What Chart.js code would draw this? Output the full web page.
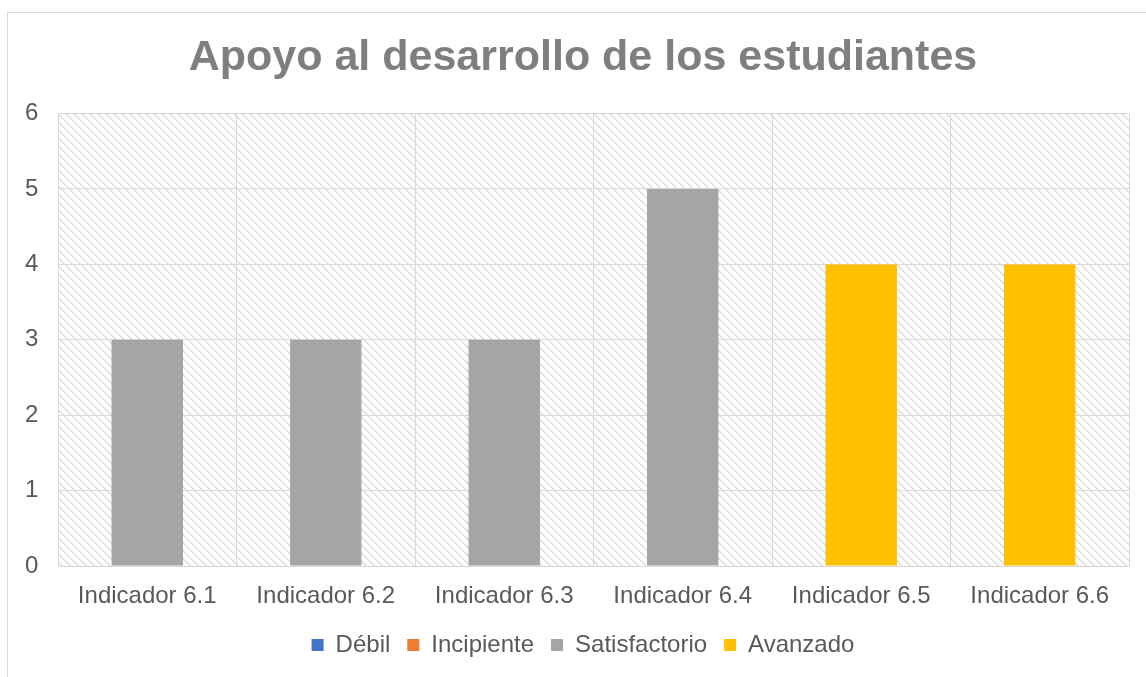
<!DOCTYPE html>
<html>
<head>
<meta charset="utf-8">
<script src="https://cdn.jsdelivr.net/npm/chart.js@4"></script>
<style>
html,body{margin:0;padding:0;background:#fff;overflow:hidden;}
canvas{display:block;}
</style>
</head>
<body>
<canvas id="c" width="1146" height="677"></canvas>
<script>
const titleText = "Apoyo al desarrollo de los estudiantes";
const categories = ["Indicador 6.1","Indicador 6.2","Indicador 6.3","Indicador 6.4","Indicador 6.5","Indicador 6.6"];
const seriesNames = ["Débil","Incipiente","Satisfactorio","Avanzado"];
const debil = [null,null,null,null,null,null];
const incipiente = [null,null,null,null,null,null];
const satisfactorio = [3,3,3,5,null,null];
const avanzado = [null,null,null,null,4,4];
const yTicks = [0,1,2,3,4,5,6];
const colors = ["#4472c4","#ed7d31","#a5a5a5","#ffc000"];

// hatch pattern
const pc = document.createElement('canvas');
pc.width = 8; pc.height = 8;
const pctx = pc.getContext('2d');
pctx.fillStyle = '#ffffff'; pctx.fillRect(0,0,8,8);
for (let y=0;y<8;y++){ for(let x=0;x<8;x++){ const d=((x-y)%8+8)%8; if(d===0){pctx.fillStyle='#d6d6d6';pctx.fillRect(x,y,1,1);} else if(d===1){pctx.fillStyle='#e6e6e6';pctx.fillRect(x,y,1,1);} } }

const ctx = document.getElementById('c').getContext('2d');
const hatch = ctx.createPattern(pc,'repeat');

const bgPlugin = {
  id:'bg',
  beforeDraw(chart){
    const c = chart.ctx, a = chart.chartArea;
    c.save();
    c.fillStyle = '#fff'; c.fillRect(0,0,chart.width,chart.height);
    c.fillStyle = hatch; c.fillRect(a.left,a.top,a.right-a.left,a.bottom-a.top);
    c.strokeStyle = '#d9d9d9'; c.lineWidth = 1;
    c.beginPath(); c.moveTo(7.5,chart.height); c.lineTo(7.5,12.5); c.lineTo(1146,12.5); c.stroke();
    c.restore();
  }
};

const FONT = '"Liberation Sans", Arial, sans-serif';
const datasetsData = [debil, incipiente, satisfactorio, avanzado];
new Chart(ctx, {
  type:'bar',
  data:{
    labels: categories,
    datasets: seriesNames.map((n,i)=>({label:n, data:datasetsData[i], backgroundColor:colors[i], barPercentage:0.4, categoryPercentage:1.0}))
  },
  options:{
    responsive:false,
    animation:false,
    devicePixelRatio:1,
    layout:{padding:{left:37,right:17,top:0,bottom:10}},
    plugins:{
      title:{display:true,text:titleText,color:'#7f7f7f',font:{family:FONT,size:43,weight:'bold'},padding:{top:32,bottom:30}},
      legend:{position:'bottom',labels:{color:'#595959',boxWidth:12,boxHeight:12,padding:17,font:{family:FONT,size:24}}},
      tooltip:{enabled:false}
    },
    scales:{
      x:{stacked:true,
         grid:{color:'#d9d9d9',offset:true,drawTicks:false},
         border:{color:'#d9d9d9'},
         ticks:{color:'#595959',padding:16,font:{family:FONT,size:24}},
         afterFit(s){s.height=50;}
      },
      y:{stacked:true,min:0,max:6,
         afterBuildTicks(s){s.ticks = yTicks.map(v=>({value:v}));},
         grid:{color:'#d9d9d9',drawTicks:false},
         border:{color:'#d9d9d9'},
         ticks:{color:'#595959',mirror:true,padding:-33,stepSize:1,font:{family:FONT,size:24}},
         afterFit(s){s.width=21;}
      }
    }
  },
  plugins:[bgPlugin]
});
</script>
</body>
</html>
